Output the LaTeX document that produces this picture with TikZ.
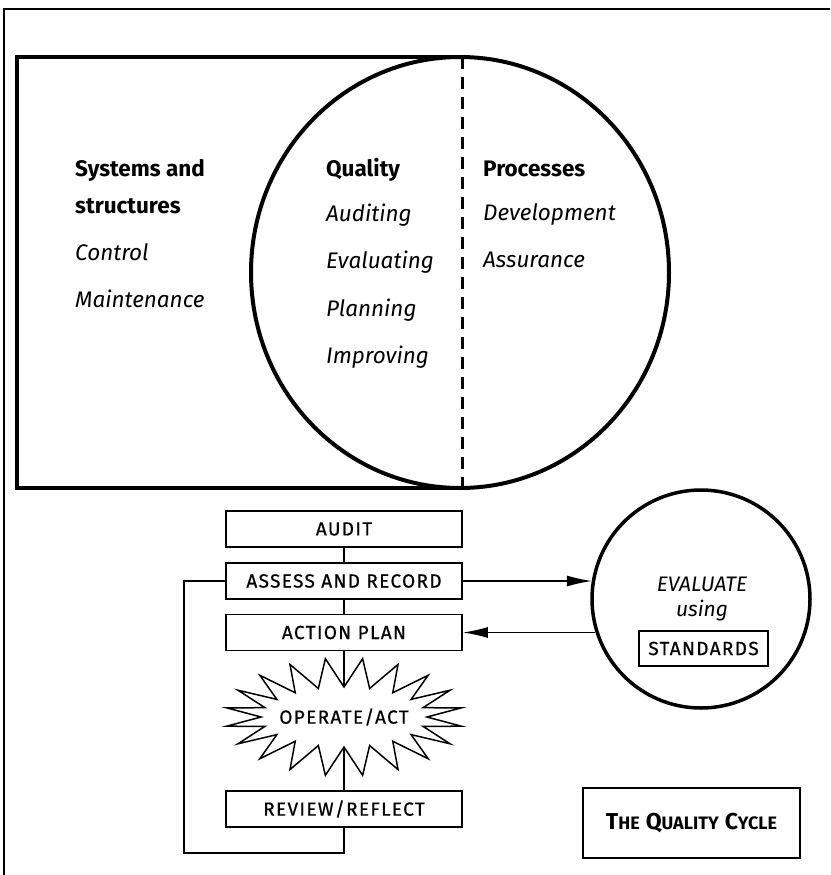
\documentclass[tikz,border=0pt]{standalone}
\usepackage{fontspec}
\setmainfont{Fira Sans}
\newfontfamily\boxfamily{Fira Sans}[FakeBold=0.6,LetterSpace=7]
\usetikzlibrary{arrows.meta}

\tikzset{
  heading/.style={anchor=base west,inner sep=0pt,font=\fontsize{22.5}{26}\selectfont\bfseries},
  item/.style={anchor=base west,inner sep=0pt,font=\fontsize{22.5}{26}\selectfont\itshape},
  boxfont/.style={font=\fontsize{19}{22}\boxfamily},
  stepbox/.style={draw,line width=1.7pt,minimum width=236pt,minimum height=36pt,inner sep=0pt,boxfont},
  link/.style={line width=1.4pt},
  feed/.style={line width=1.4pt,-{Latex[length=25pt,width=11pt]}},
}

\begin{document}
\begin{tikzpicture}[x=1pt,y=-1pt]
    \useasboundingbox (0,0) rectangle (830,875);

    % page frame
    \draw[line width=1.5pt] (4,875) -- (4,9) -- (830,9);

    % systems box, quality circle
    \draw[line width=4pt] (462,57) -- (17,57) -- (17,488) -- (462,488);
    \draw[line width=4pt] (460,272.5) ellipse [x radius=209pt, y radius=215.5pt];
    \draw[line width=3pt,dash pattern=on 12pt off 8pt] (462,57) -- (462,488);

    \node[heading] (sys1) at (75,176) {Systems and};
    \node[heading] (sys2) at (75,213) {structures};
    \node[item] (control) at (75,260) {Control};
    \node[item] (maint) at (75,307) {Maintenance};

    \node[heading] (quality) at (326,176) {Quality};
    \node[item] (auditing) at (326,221) {Auditing};
    \node[item] (evaluating) at (326,268) {Evaluating};
    \node[item] (planning) at (326,316) {Planning};
    \node[item] (improving) at (326,363) {Improving};

    \node[heading] (processes) at (483,176) {Processes};
    \node[item] (develop) at (483,220) {Development};
    \node[item] (assure) at (483,267) {Assurance};

    % the cycle
    \node[stepbox] (audit) at (344,529) {AUDIT};
    \node[stepbox] (assess) at (344,581) {ASSESS AND RECORD};
    \node[stepbox] (action) at (344,632.5) {ACTION PLAN};

    % starburst: 20 spikes round an ellipse
    \draw[line width=1.5pt] (427,717)
      \foreach \k in {1,...,39}{
        -- ({344+ifthenelse(mod(\k,2)==0,83,119)*cos(\k*9)},{717+ifthenelse(mod(\k,2)==0,30,59)*sin(\k*9)})
      } -- cycle;
    \node[inner sep=0pt,font=\fontsize{19}{22}\boxfamily] (act) at (344,717) {OPERATE/ACT};
    \coordinate (acttop) at (344,687);
    \coordinate (actbot) at (344,747);

    \node[stepbox] (review) at (344,809) {REVIEW/REFLECT};

    \draw[link] (audit) -- (assess);
    \draw[link] (assess) -- (action);
    \draw[link] (action) -- (acttop);
    \draw[link] (actbot) -- (review);

    \coordinate (loopcorner) at (184,853);
    \draw[link] (review.south) |- (loopcorner) |- (assess.west);

    % evaluate
    \node[circle,draw,line width=3.5pt,minimum size=218pt,inner sep=0pt] (eval) at (701,599) {};
    \node[inner sep=0pt,anchor=base,font=\fontsize{21}{24}\selectfont\itshape] (evaltxt) at (702,591) {EVALUATE};
    \node[inner sep=0pt,anchor=base,font=\fontsize{21}{24}\selectfont\itshape] (using) at (702,616) {using};
    \node[draw,line width=1.7pt,minimum width=129pt,minimum height=35pt,inner sep=0pt,boxfont] (standards) at (703.5,648.5) {STANDARDS};

    \draw[feed] (assess.east) -- (assess.east -| eval.170);
    \draw[feed] (action.east -| eval.197) -- (action.east);

    % title
    \node[draw,line width=1.7pt,minimum width=217pt,minimum height=70pt,inner sep=0pt,
      font=\bfseries] (title) at (691.5,823)
      {{\fontsize{23}{26}\selectfont T}{\fontsize{18}{26}\selectfont HE}\hspace{6pt}{\fontsize{23}{26}\selectfont Q}{\fontsize{18}{26}\selectfont UALITY}\hspace{6pt}{\fontsize{23}{26}\selectfont C}{\fontsize{18}{26}\selectfont YCLE}};

\end{tikzpicture}
\end{document}
